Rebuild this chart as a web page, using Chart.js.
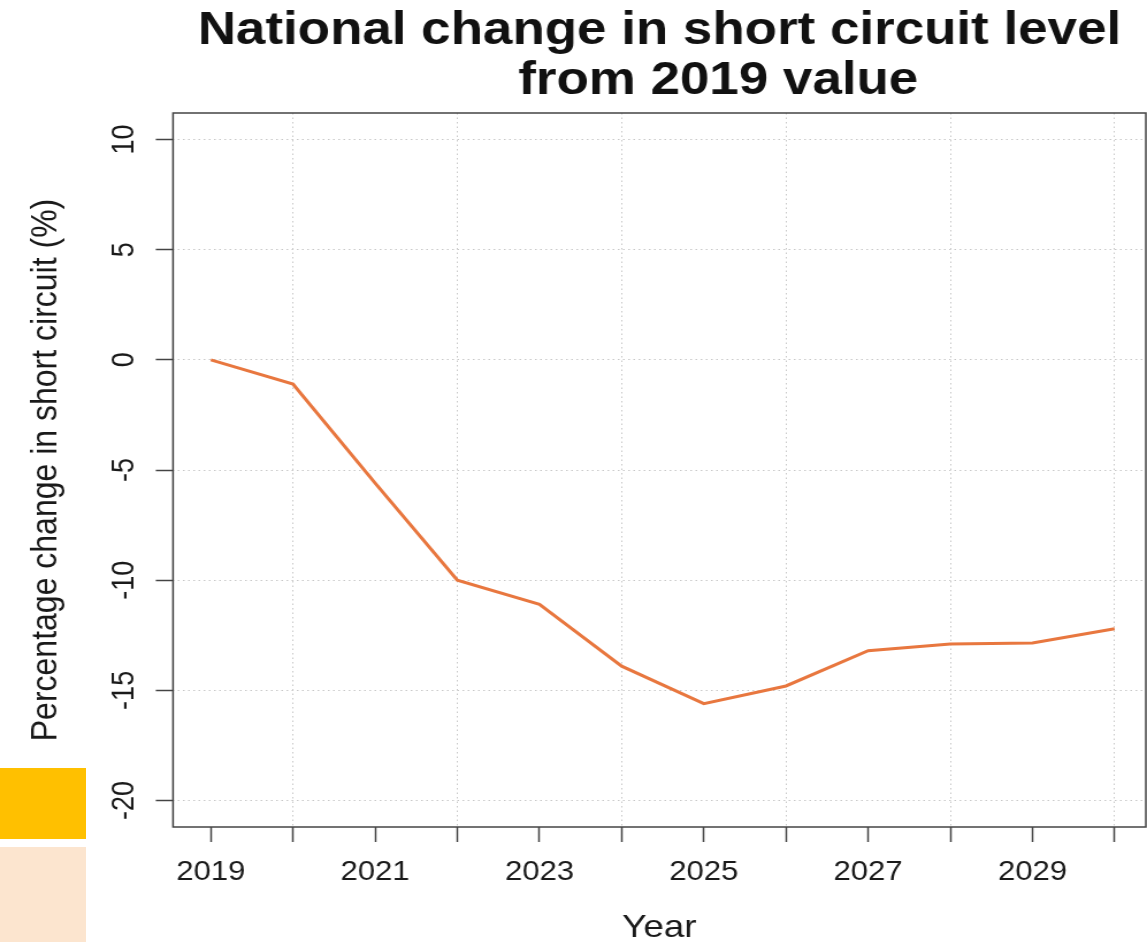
<!DOCTYPE html>
<html>
<head>
<meta charset="utf-8">
<script src="https://cdn.jsdelivr.net/npm/chart.js@4"></script>
<style>
html,body{margin:0;padding:0;background:#fff;}
#wrap{position:relative;width:1147px;height:942px;overflow:hidden;background:#fff;}
#c{position:absolute;left:0;top:0;}
.sq{position:absolute;left:0;width:86px;}
</style>
</head>
<body>
<div id="wrap">
  <canvas id="c" width="997" height="942" style="width:1147px;height:942px"></canvas>
  <div class="sq" style="top:768px;height:71px;background:#FFC000"></div>
  <div class="sq" style="top:847px;height:95px;background:#FCE5CF"></div>
</div>
<script>
// ---- data ----
const years = [2019, 2020, 2021, 2022, 2023, 2024, 2025, 2026, 2027, 2028, 2029, 2030];
const shortCircuitChange = [0, -1.1, -5.6, -10.0, -11.1, -13.9, -15.6, -14.8, -13.2, -12.9, -12.85, -12.2];
const xLabelYears = [2019, 2021, 2023, 2025, 2027, 2029];
const xGridYears = [2020, 2022, 2024, 2026, 2028, 2030];
const yTicks = [-20, -15, -10, -5, 0, 5, 10];
const titleLines = ['National change in short circuit level', '        from 2019 value'];
const xTitle = 'Year';
const yTitle = 'Percentage change in short circuit (%)';

Chart.defaults.font.family = '"Liberation Sans", Arial, Helvetica, sans-serif';
Chart.defaults.color = '#1a1a1a';

const boxPlugin = {
  id: 'plotBox',
  afterDraw(chart) {
    const {ctx, chartArea: a} = chart;
    ctx.save();
    ctx.strokeStyle = '#444';
    ctx.lineWidth = 1.5;
    ctx.setLineDash([]);
    ctx.strokeRect(a.left, a.top, a.right - a.left, a.bottom - a.top);
    ctx.restore();
  }
};

const gridGray = '#c8c8c8';

new Chart(document.getElementById('c'), {
  type: 'line',
  data: {
    datasets: [{
      data: years.map((y, i) => ({x: y, y: shortCircuitChange[i]})),
      borderColor: '#E8773F',
      borderWidth: 3,
      pointRadius: 0,
      tension: 0,
      fill: false
    }]
  },
  options: {
    responsive: false,
    devicePixelRatio: 1,
    animation: false,
    layout: {padding: {left: 0, right: 1, top: 0, bottom: 0}},
    plugins: {
      legend: {display: false},
      tooltip: {enabled: false},
      title: {
        display: true,
        fullSize: false,
        text: titleLines,
        color: '#111',
        font: {size: 46, weight: 'bold', lineHeight: 50 / 46},
        padding: {top: 6, bottom: 7}
      }
    },
    scales: {
      x: {
        type: 'linear',
        min: 2018.54,
        max: 2030.38,
        afterBuildTicks: (s) => { s.ticks = years.map(v => ({value: v})); },
        afterFit: (s) => { s.height = 115; },
        ticks: {
          autoSkip: false,
          maxRotation: 0,
          minRotation: 0,
          padding: 14,
          color: '#1a1a1a',
          font: {size: 27},
          callback: (v) => xLabelYears.includes(v) ? String(v) : ''
        },
        grid: {
          color: (ctx) => (ctx.tick && xGridYears.includes(ctx.tick.value)) ? gridGray : 'rgba(0,0,0,0)',
          lineWidth: 1,
          tickLength: 15,
          tickColor: '#444',
          tickWidth: 1.5,
          tickBorderDash: []
        },
        border: {display: false, dash: [1.5, 3]},
        title: {
          display: true,
          text: xTitle,
          color: '#1a1a1a',
          font: {size: 32, lineHeight: 0.875},
          padding: 0
        }
      },
      y: {
        type: 'linear',
        min: -21.2,
        max: 11.2,
        afterBuildTicks: (s) => { s.ticks = yTicks.map(v => ({value: v})); },
        afterFit: (s) => { s.width = 150.4; },
        ticks: {
          minRotation: 90,
          maxRotation: 90,
          crossAlign: 'center',
          padding: 7,
          color: '#1a1a1a',
          font: {size: 27}
        },
        grid: {
          color: gridGray,
          lineWidth: 1,
          tickLength: 15,
          tickColor: '#444',
          tickWidth: 1.5,
          tickBorderDash: []
        },
        border: {display: false, dash: [1.5, 3]},
        title: {
          display: true,
          text: yTitle,
          color: '#1a1a1a',
          font: {size: 32, lineHeight: 1},
          padding: {top: 24, bottom: 0}
        }
      }
    }
  },
  plugins: [boxPlugin]
});
</script>
</body>
</html>
